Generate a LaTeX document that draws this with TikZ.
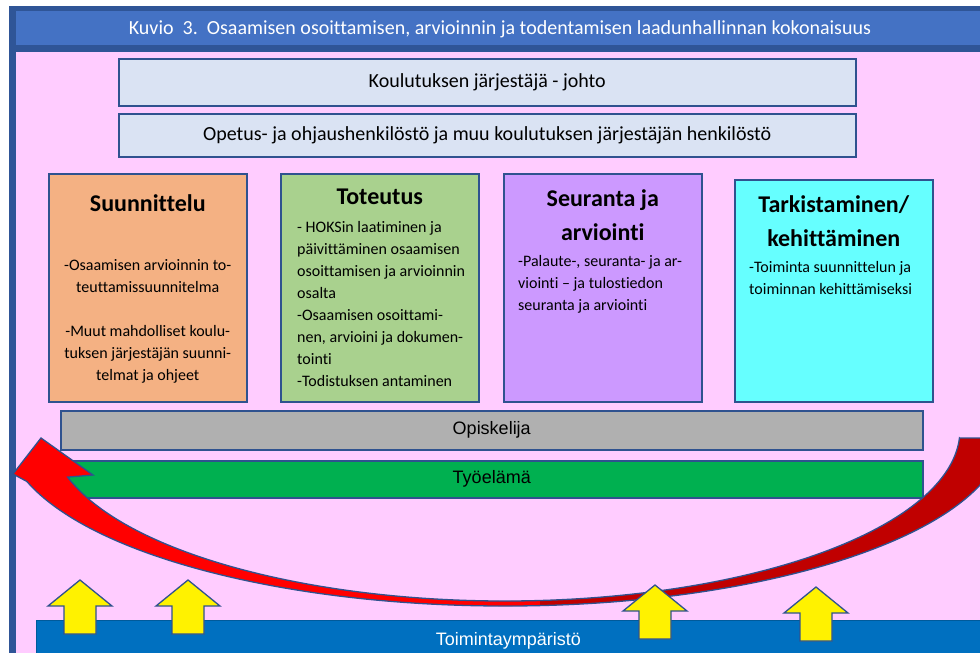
\documentclass[tikz,border=0pt]{standalone}
\usepackage{fontspec}
\setmainfont{Carlito}[Ligatures={TeX,NoCommon}]
\newfontfamily\arialfont{Liberation Sans}
\usetikzlibrary{positioning}

\definecolor{frameblue}{HTML}{2F5597}
\definecolor{titleblue}{HTML}{4472C4}
\definecolor{bgpink}{HTML}{FFCCFF}
\definecolor{boxline}{HTML}{2F528F}
\definecolor{paleblue}{HTML}{DAE3F3}
\definecolor{orangebox}{HTML}{F4B183}
\definecolor{greenbox}{HTML}{A9D18E}
\definecolor{violetbox}{HTML}{CC99FF}
\definecolor{cyanbox}{HTML}{66FFFF}
\definecolor{greybar}{HTML}{B0B0B0}
\definecolor{workgreen}{HTML}{00B050}
\definecolor{envblue}{HTML}{0070C0}
\definecolor{darkred}{HTML}{C00000}

% kaareva nuoli, ulko- ja sisakaari
\def\redarrowpath{(959.5,438) -- (1004.5,438)
  arc[start angle=2.6, end angle=163, x radius=500, y radius=176]
  -- (13,474) -- (41,438) -- (93,475) -- (67.6,477.1)
  arc[start angle=164, end angle=2.68, x radius=455, y radius=171] -- cycle}

\begin{document}
\begin{tikzpicture}[x=1pt, y=-1pt,
    band/.style={draw=boxline, line width=1.5pt, anchor=north west, inner sep=0pt},
    phase/.style={band, minimum width=198pt, minimum height=228pt},
    phasetitle/.style={align=center, inner sep=0pt, font=\bfseries\fontsize{24}{34}\selectfont},
    phasetext/.style={inner sep=0pt, font=\fontsize{16}{22}\selectfont},
    bartext/.style={font=\arialfont\fontsize{18}{20}\selectfont},
    uparrow/.pic={\draw[boxline, line width=1.3pt, fill=yellow, line join=miter]
      (0,0) -- (32,26) -- (16,26) -- (16,54) -- (-16,54) -- (-16,26) -- (-32,26) -- cycle;}]
    \useasboundingbox (0,0) rectangle (980,653);
    \fill[white] (0,0) rectangle (980,653);

    % kehys ja otsikko
    \fill[frameblue] (9,6) rectangle (1000,660);
    \fill[titleblue] (16,11) rectangle (1000,45);
    \fill[bgpink] (16,52) rectangle (1000,660);
    \node[text=white, font=\fontsize{20}{22}\selectfont] (title) at (500,29)
        {Kuvio\ \ 3.\ \ Osaamisen osoittamisen, arvioinnin ja todentamisen laadunhallinnan kokonaisuus};

    \node[band, fill=paleblue, minimum width=737pt, minimum height=47pt,
          font=\fontsize{20}{22}\selectfont] (johto) at (118,58) {Koulutuksen järjestäjä - johto};
    \node[band, fill=paleblue, minimum width=737pt, minimum height=43pt,
          font=\fontsize{20}{22}\selectfont] (henkilosto) at (118,113)
        {Opetus- ja ohjaushenkilöstö ja muu koulutuksen järjestäjän henkilöstö};

    % vaiheet
    \node[phase, fill=orangebox] (suunn) at (48,173) {};
    \node[phase, fill=greenbox] (toteut) at (280,173) {};
    \node[phase, fill=violetbox] (seur) at (503,173) {};
    \node[phase, fill=cyanbox, minimum height=222pt] (tark) at (734,179) {};

    \node[phasetitle, below=21pt of suunn.north] (suunnT) {Suunnittelu};
    \node[phasetext, align=center, below=86pt of suunn.north] (suunnB)
        {-Osaamisen arvioinnin to-\\teuttamissuunnitelma\\[22pt]-Muut mahdolliset koulu-\\tuksen järjestäjän suunni-\\telmat ja ohjeet};

    \node[phasetitle, below=16pt of toteut.north] (toteutT) {Toteutus};
    \node[phasetext, align=left, below right=48pt and 17pt of toteut.north west] (toteutB)
        {- HOKSin laatiminen ja\\päivittäminen osaamisen\\osoittamisen ja arvioinnin\\osalta\\-Osaamisen osoittami-\\nen, arvioini ja dokumen-\\tointi\\-Todistuksen antaminen};

    \node[phasetitle, below=16pt of seur.north] (seurT) {Seuranta ja\\arviointi};
    \node[phasetext, align=left, below right=82pt and 15pt of seur.north west] (seurB)
        {-Palaute-, seuranta- ja ar-\\viointi -- ja tulostiedon\\seuranta ja arviointi};

    \node[phasetitle, below=16pt of tark.north] (tarkT) {Tarkistaminen/\\kehittäminen};
    \node[phasetext, align=left, below right=82pt and 15pt of tark.north west] (tarkB)
        {-Toiminta suunnittelun ja\\toiminnan kehittämiseksi};

    % opiskelija, tyoelama, ymparisto
    \node[band, fill=greybar, minimum width=862pt, minimum height=39pt, bartext] (opisk) at (60,410) {Opiskelija};
    \node[band, fill=workgreen, minimum width=862pt, minimum height=37pt, bartext] (tyoel) at (60,460) {Työelämä};
    \node[band, draw=envblue!80!black, line width=0.8pt, fill=envblue, minimum width=944pt, minimum height=40pt,
          bartext, text=white] (ymparisto) at (36,620) {Toimintaympäristö};

    % punainen kaari
    \begin{scope}
        \clip (0,0) rectangle (540,653);
        \fill[red] \redarrowpath;
    \end{scope}
    \begin{scope}
        \clip (540,0) rectangle (1000,653);
        \fill[darkred] \redarrowpath;
    \end{scope}
    \draw[boxline, line width=1.3pt, line join=miter] \redarrowpath;

    % keltaiset nuolet
    \pic at (80,580) {uparrow};
    \pic at (188,580) {uparrow};
    \pic at (655,585) {uparrow};
    \pic at (816,587) {uparrow};
\end{tikzpicture}
\end{document}
